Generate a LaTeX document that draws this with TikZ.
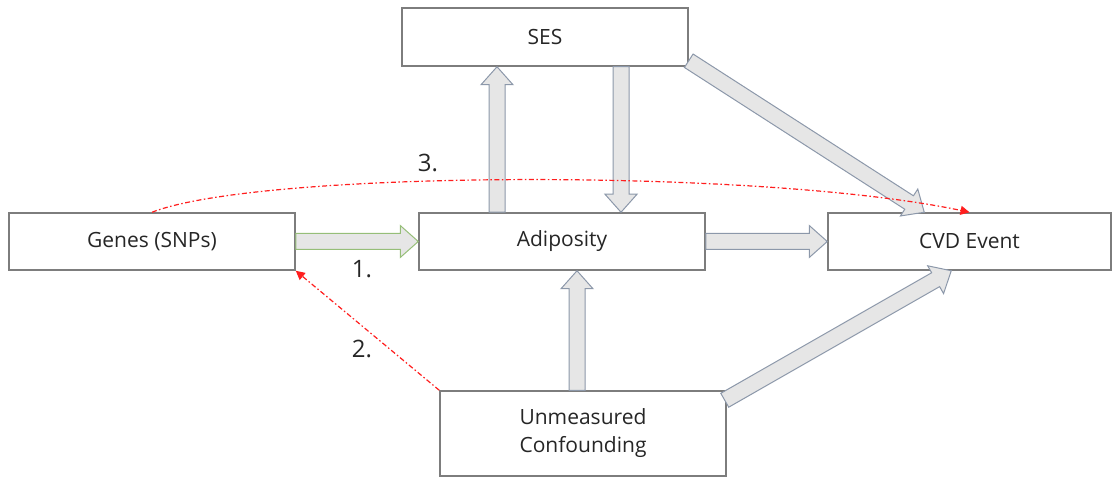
\documentclass[tikz,border=0pt]{standalone}
\usepackage{fontspec}
\setmainfont{Open Sans}
\usetikzlibrary{calc,arrows.meta}
\definecolor{boxline}{RGB}{125,125,125}
\definecolor{arrline}{RGB}{140,152,170}
\definecolor{arrfill}{RGB}{230,230,230}
\definecolor{greenline}{RGB}{150,190,120}
\definecolor{redline}{RGB}{255,30,30}
\tikzset{
  box/.style={draw=boxline, line width=1.5pt, fill=white, rectangle, align=center,
    font=\fontsize{21}{28}\selectfont, text=black!85, inner sep=0pt},
  blockstyle/.style={draw=arrline, fill=arrfill, line width=1pt, line join=miter},
  reddash/.style={draw=redline, line width=1.2pt,
    dash pattern=on 5pt off 2.5pt on 1.5pt off 2.5pt,
    -{Triangle[length=9pt,width=9pt]}},
  numlabel/.style={font=\fontsize{24}{28}\selectfont, text=black!85, inner sep=0pt}
}
\newcommand\blockarr[3][]{%
  \coordinate (bA) at #2; \coordinate (bB) at #3;
  \coordinate (bH) at ($(bB)!18pt!(bA)$);
  \draw[blockstyle,#1] ($(bA)!8pt!90:(bB)$) -- ($(bH)!8pt!-90:(bA)$)
    -- ($(bH)!16pt!-90:(bA)$) -- (bB) -- ($(bH)!16pt!90:(bA)$)
    -- ($(bH)!8pt!90:(bA)$) -- ($(bA)!8pt!-90:(bB)$) -- cycle;}
\begin{document}
\begin{tikzpicture}[x=1pt,y=-1pt]
\useasboundingbox (0,0) rectangle (1114,478);
% boxes
\node[box, minimum width=286pt, minimum height=58pt] (ses) at (545,37) {SES};
\node[box, minimum width=286pt, minimum height=57pt] (genes) at (152,241.5) {Genes (SNPs)};
\node[box, minimum width=286pt, minimum height=57pt] (ad) at (562,241.5) {Adiposity};
\node[box, minimum width=283pt, minimum height=57pt] (cvd) at (969.5,241.5) {CVD Event};
\node[box, minimum width=286pt, minimum height=85pt] (um) at (583,433.5) {Unmeasured\\Confounding};
% block arrows
\blockarr{($(ad.north)+(-65,0)$)}{($(ses.south)+(-48,0)$)}
\blockarr{($(ses.south)+(76,0)$)}{($(ad.north)+(59,0)$)}
\blockarr[draw=greenline]{(genes.east)}{(ad.west)}
\blockarr{(ad.east)}{(cvd.west)}
\blockarr{($(um.north)+(-6,0)$)}{($(ad.south)+(15,0)$)}
\blockarr{($(ses.south east)+(0,-6)$)}{($(cvd.north west)+(97,0)$)}
\blockarr{($(um.north east)+(-2,10)$)}{($(cvd.south west)+(124,0)$)}
% red dash-dot connectors
\draw[reddash] (genes.north) .. controls (260,170) and (760,168) .. (cvd.north);
\draw[reddash] (um.north west) -- (genes.south east);
% labels
\node[numlabel] (l1) at (362,269) {1.};
\node[numlabel] (l2) at (362,349) {2.};
\node[numlabel] (l3) at (428,163) {3.};
\end{tikzpicture}
\end{document}
